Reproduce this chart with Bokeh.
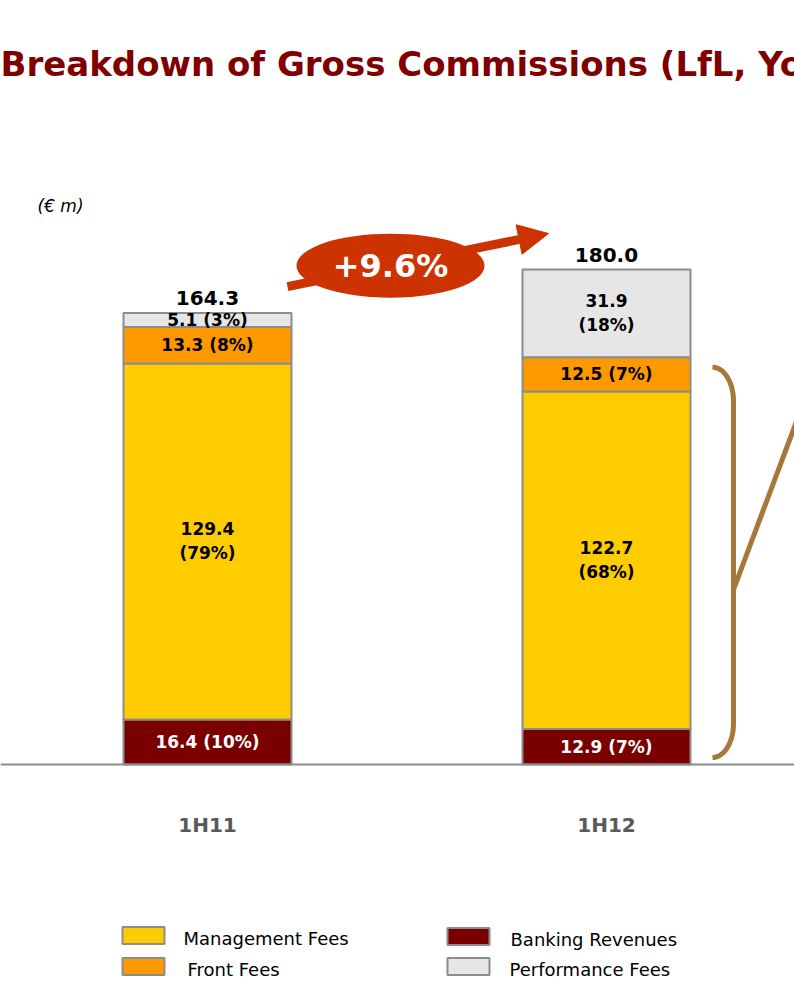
import numpy as np
from bokeh.plotting import figure
from bokeh.models import ColumnDataSource, Range1d, Arrow, NormalHead, Span
from bokeh.core.properties import value
from bokeh.embed import file_html
from bokeh.resources import INLINE

# ---------------- data ----------------
periods = ["1H11", "1H12"]
series_keys = ["banking", "management", "front", "performance"]
series_names = ["Banking Revenues", "Management Fees", "Front Fees", "Performance Fees"]
banking = [16.4, 12.9]
management = [129.4, 122.7]
front = [13.3, 12.5]
performance = [5.1, 31.9]
banking_pct = ["10%", "7%"]
management_pct = ["79%", "68%"]
front_pct = ["8%", "7%"]
performance_pct = ["3%", "18%"]
totals = [164.3, 180.0]
growth_label = "+9.6%"
title_text = "Breakdown of Gross Commissions (LfL, YoY)"
unit_label = "(\u20ac m)"

# ---------------- layout helpers ----------------
W, H = 794, 983
PX_PER_X = 399.0
X0_PAGE = 207.0
BASE_PAGE = 764.0
S = 2.75  # px per EUR m
x_start = -X0_PAGE / PX_PER_X
x_end = x_start + W / PX_PER_X
y_end = BASE_PAGE / S
y_start = y_end - H / S


def fx(px):
    return x_start + px / PX_PER_X


def fy(py):
    return (BASE_PAGE - py) / S


FONT = value("DejaVu Sans")
colors = ["#7A0000", "#FFCC00", "#FF9900", "#E6E6E6"]
EDGE = "#8C8C8C"
ORANGE = "#CC3300"
BROWN = "#A87838"

p = figure(width=W, height=H, x_range=Range1d(x_start, x_end), y_range=Range1d(y_start, y_end),
           x_axis_type=None, y_axis_type=None, toolbar_location=None, output_backend="svg",
           min_border=0, outline_line_color=None)
p.xgrid.visible = False
p.ygrid.visible = False

xs = list(range(len(periods)))
src = ColumnDataSource(dict(x=xs, banking=banking, management=management, front=front,
                            performance=performance))
BAR_W = 168 / PX_PER_X
p.vbar_stack(series_keys, x="x", width=BAR_W, fill_color=colors, line_color=EDGE,
             line_width=2, source=src)

p.add_layout(Span(location=0, dimension="width", line_color=EDGE, line_width=2))

# segment labels
vals = np.array([banking, management, front, performance])
pcts = [banking_pct, management_pct, front_pct, performance_pct]
cum = np.cumsum(vals, axis=0)
lx, ly, lt, lc = [], [], [], []
for i in range(vals.shape[0]):
    for j in range(vals.shape[1]):
        v = vals[i, j]
        mid = cum[i, j] - v / 2
        sep = "\n" if v * S > 60 else " "
        lx.append(xs[j]); ly.append(mid)
        lt.append(f"{v:.1f}{sep}({pcts[i][j]})")
        lc.append("white" if i == 0 else "black")
p.text(x=lx, y=ly, text=lt, text_color=lc, text_font=FONT, text_font_style="bold",
       text_font_size="17px", text_align="center", text_baseline="middle", text_line_height=1.2)

# totals
p.text(x=xs, y=[t + 8 / S for t in totals], text=[f"{t:.1f}" for t in totals],
       text_font=FONT, text_font_style="bold", text_font_size="20px", text_color="black",
       text_align="center", text_baseline="bottom")

# category labels
p.text(x=xs, y=[fy(824)] * len(xs), text=periods, text_font=FONT, text_font_style="bold",
       text_font_size="20px", text_color="#595959", text_align="center", text_baseline="middle")

# growth arrow
tail = (fx(287), totals[0] + 26 / S)
head = (fx(548), totals[1] + 36 / S)
p.add_layout(Arrow(end=NormalHead(size=30, fill_color=ORANGE, line_color=ORANGE),
                   x_start=tail[0], y_start=tail[1], x_end=head[0], y_end=head[1],
                   line_width=9, line_color=ORANGE, level="underlay"))
t = (fx(390) - tail[0]) / (head[0] - tail[0])
cx, cy = fx(390), tail[1] + t * (head[1] - tail[1])
p.ellipse(x=[cx], y=[cy], width=[188 / PX_PER_X], height=[64 / S], fill_color=ORANGE,
          line_color=None)
p.text(x=[cx], y=[cy], text=[growth_label], text_font=FONT, text_font_style="bold",
       text_font_size="32px", text_color="white", text_align="center", text_baseline="middle")

# bracket on 1H12 (banking + management + front)
ytop_px = BASE_PAGE - cum[2, 1] * S + 10
ybot_px = BASE_PAGE - 7
x0p, x1p, rx, ry = 712.0, 733.0, 21.0, 34.0
a1 = np.linspace(np.pi / 2, 0, 20)
a2 = np.linspace(0, -np.pi / 2, 20)
bx = np.concatenate([x0p + rx * np.cos(a1), x0p + rx * np.cos(a2)])
by = np.concatenate([ytop_px + ry - ry * np.sin(a1), ybot_px - ry - ry * np.sin(a2)])
p.line(x=[fx(v) for v in bx], y=[fy(v) for v in by], line_color=BROWN, line_width=5)
mid_px = ybot_px - 0.43 * (ybot_px - ytop_px)
p.line(x=[fx(x1p), fx(810)], y=[fy(mid_px), fy(mid_px - 77 * 163 / 61)],
       line_color=BROWN, line_width=5)

# title and unit
p.text(x=[fx(0)], y=[fy(63)], text=[title_text], text_font=FONT, text_font_style="bold",
       text_font_size="34px", text_color="#800000", text_align="left", text_baseline="middle")
p.text(x=[fx(37)], y=[fy(205)], text=[unit_label], text_font=FONT, text_font_style="italic",
       text_font_size="17px", text_color="black", text_align="left", text_baseline="middle")

# legend
leg_order = [1, 2, 0, 3]
leg_sq_x = [143, 143, 468, 468]
leg_sq_y = [935, 966, 936, 966]
leg_tx_x = [183, 187, 510, 509]
p.rect(x=[fx(v) for v in leg_sq_x], y=[fy(v) for v in leg_sq_y], width=42 / PX_PER_X,
       height=17 / S, fill_color=[colors[i] for i in leg_order], line_color=EDGE, line_width=2)
p.text(x=[fx(v) for v in leg_tx_x], y=[fy(v + 3) for v in leg_sq_y],
       text=[series_names[i] for i in leg_order], text_font=FONT, text_font_size="18px",
       text_color="black", text_align="left", text_baseline="middle")

open("out.html", "w").write(file_html(p, INLINE))
